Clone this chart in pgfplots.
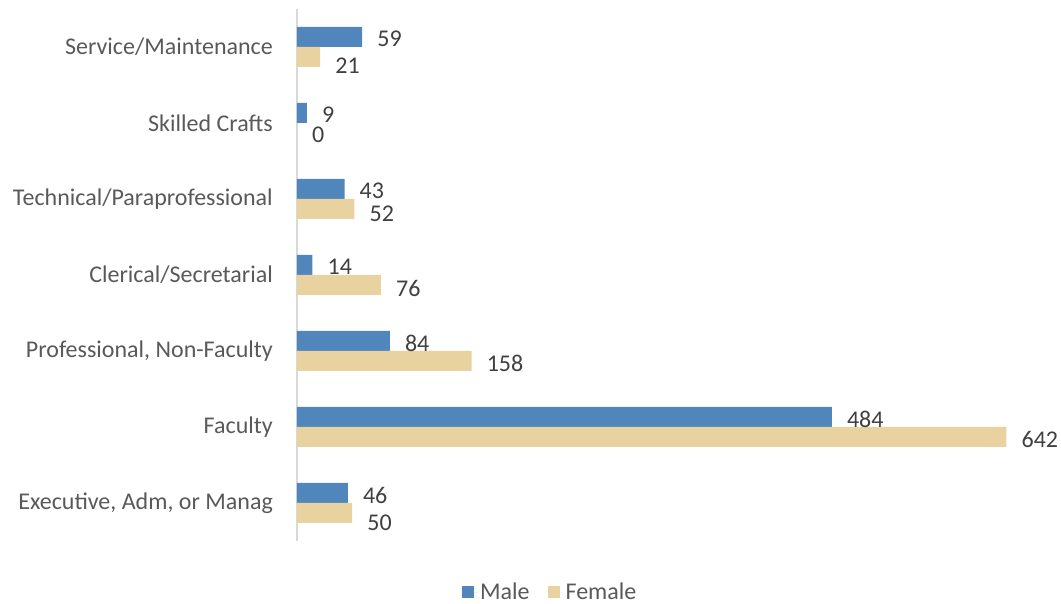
\documentclass[border=0pt]{standalone}
\usepackage{fontspec}
\setmainfont{Carlito}
\usepackage{pgfplots}
\pgfplotsset{compat=1.18}
\definecolor{male}{RGB}{80,134,188}
\definecolor{female}{RGB}{232,210,160}
\definecolor{lbl}{RGB}{64,64,64}
\definecolor{catlbl}{RGB}{89,89,89}
\definecolor{axl}{RGB}{217,217,217}
\pgfplotstableread{
x y dy
46 0 -2
484 1 -2
84 2 -2
14 3 -2
43 4 -2
9 5 -2
59 6 -2
}\male
\pgfplotstableread{
x y dy
50 0 -10
642 1 -2
158 2 -2
76 3 -3
52 4 -5
0 5 -2
21 6 -9
}\female
\begin{document}
\begin{tikzpicture}
\begin{axis}[
 at={(0pt,0pt)}, anchor=south west,
 scale only axis, width=751.4pt, height=532pt,
 xbar, xmin=0, xmax=680, ymin=-0.5, ymax=6.5,
 bar width=20pt,
 axis y line*=left, axis x line=none,
 y axis line style={draw=axl, line width=1.5pt},
 ytick={0,...,6},
 yticklabels={{Executive, Adm, or Manag},Faculty,{Professional, Non-Faculty},Clerical/Secretarial,Technical/Paraprofessional,Skilled Crafts,Service/Maintenance},
 major tick length=0pt,
 yticklabel style={font=\fontsize{24}{28}\selectfont, text=catlbl, anchor=east, inner sep=0pt, xshift=-24pt},
 xtick=\empty,
 nodes near coords,
 visualization depends on={\thisrow{dy}\as\dy},
 every node near coord/.append style={font=\fontsize{24}{28}\selectfont, text=lbl, anchor=west, inner sep=0pt, xshift=15pt, yshift=\dy pt},
 /pgf/number format/assume math mode=true,
 legend style={draw=none, at={(0.337,-0.096)}, anchor=center, legend columns=2,
   font=\fontsize{24}{28}\selectfont, text=catlbl,
   /tikz/every even column/.append style={column sep=16pt}},
 legend image code/.code={\fill (0pt,-6pt) rectangle (12pt,6pt); \path (0pt,0pt) -- (16pt,0pt);},
 clip=false,
]
\addplot[fill=male, draw=none, bar shift=10pt] table[x=x,y=y] {\male};
\addplot[fill=female, draw=none, bar shift=-10pt] table[x=x,y=y] {\female};
\legend{Male,Female}
\end{axis}
\pgfresetboundingbox
\path (-297pt,-63pt) rectangle (764pt,541pt);
\end{tikzpicture}
\end{document}
